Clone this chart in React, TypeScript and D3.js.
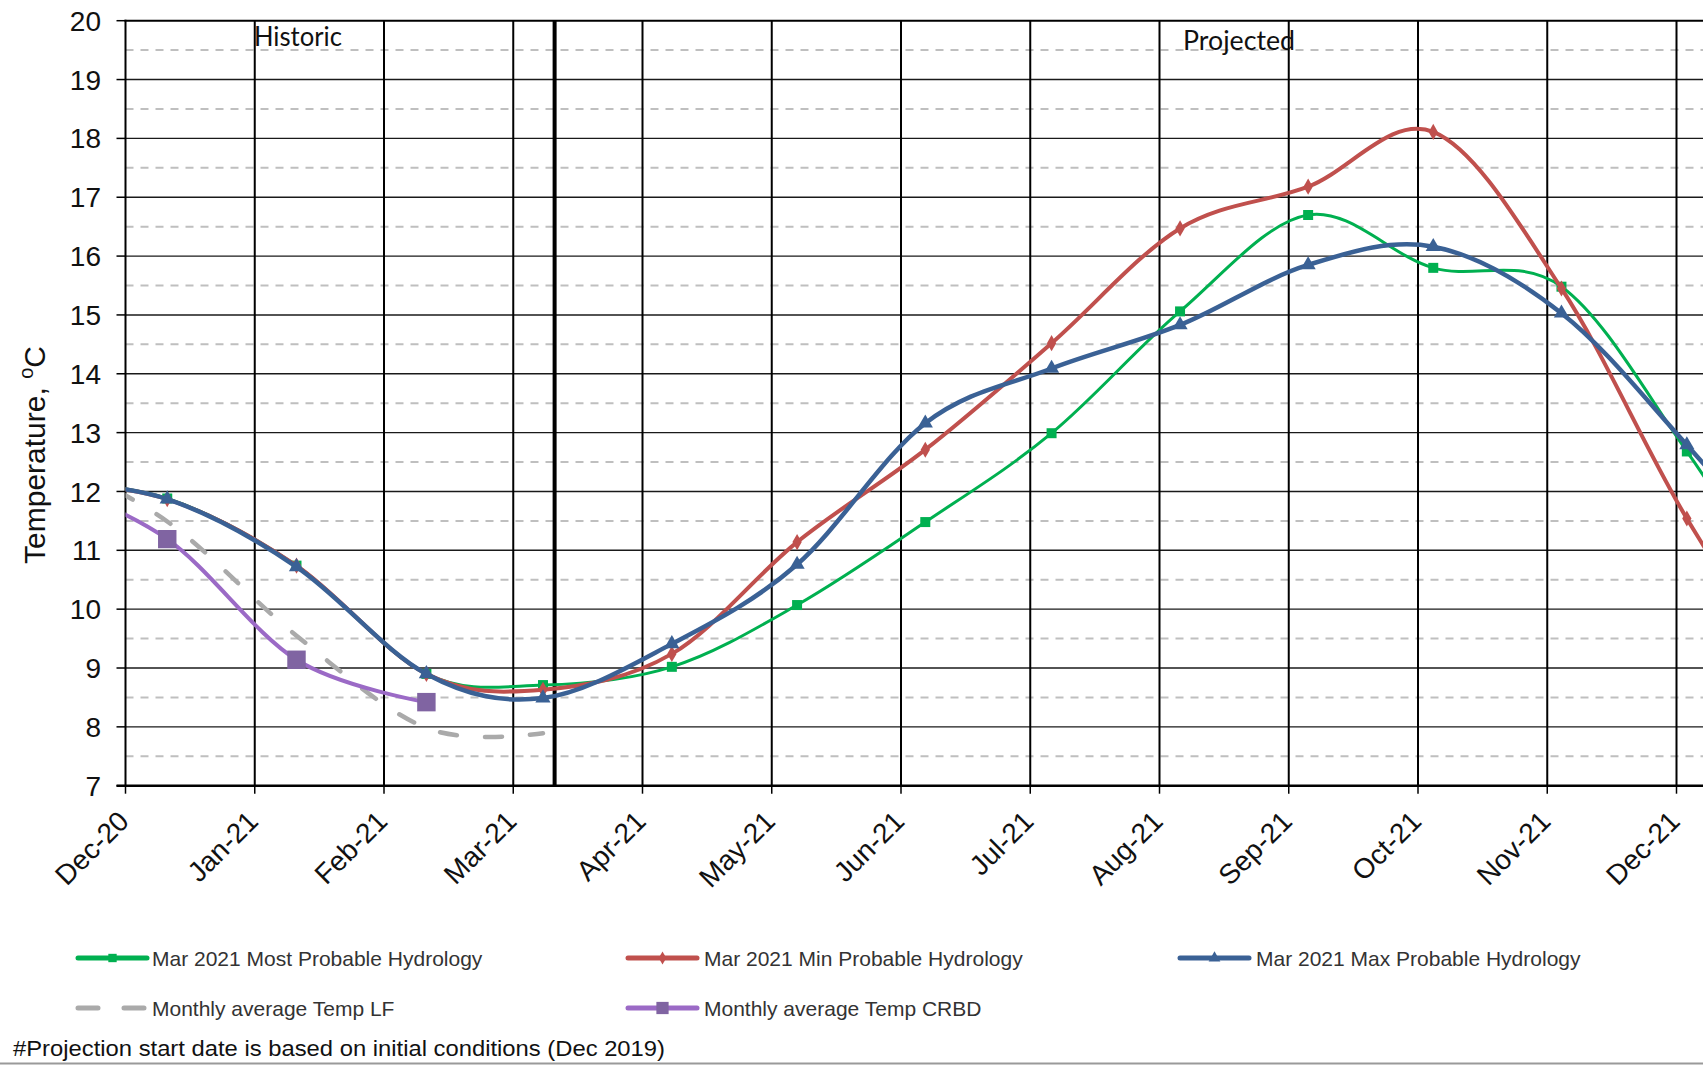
import React from "react";
import * as d3 from "d3";

// ---------- data ----------
const monthLabels = ["Dec-20", "Jan-21", "Feb-21", "Mar-21", "Apr-21", "May-21", "Jun-21", "Jul-21", "Aug-21", "Sep-21", "Oct-21", "Nov-21", "Dec-21"];
const yTickValues = [7, 8, 9, 10, 11, 12, 13, 14, 15, 16, 17, 18, 19, 20];
const yHalfValues = [7.5, 8.5, 9.5, 10.5, 11.5, 12.5, 13.5, 14.5, 15.5, 16.5, 17.5, 18.5, 19.5];

// x positions in months after Dec-20 (first and last points lie outside the visible window)
const projMonths = [-0.68, 0.323, 1.323, 2.328, 3.23, 4.227, 5.196, 6.188, 7.165, 8.159, 9.15, 10.118, 11.11, 12.08, 13.08];
const mostProbable = [12.2, 11.88, 10.74, 8.9, 8.71, 9.02, 10.07, 11.48, 12.99, 15.06, 16.7, 15.8, 15.48, 12.68, 9.3];
const minProbable = [12.2, 11.87, 10.74, 8.9, 8.63, 9.24, 11.14, 12.71, 14.52, 16.47, 17.18, 18.11, 15.45, 11.54, 8.2];
const maxProbable = [12.2, 11.87, 10.72, 8.9, 8.49, 9.41, 10.76, 13.16, 14.09, 14.83, 15.85, 16.16, 15.03, 12.79, 10.24];

const lfMonths = [-0.68, 0.323, 1.323, 2.328, 3.23];
const tempLF = [12.7, 11.49, 9.55, 7.98, 7.89];
const crbdMonths = [-0.68, 0.323, 1.323, 2.328];
const tempCRBD = [12.25, 11.19, 9.14, 8.42];

const projectionStart = 3.32;

const FONT = "'Liberation Sans', Arial, sans-serif";

const W = 1703;
const H = 1065;
const left = 125.5;
const top = 20.7;
const bottom = 785.7;
const monthW = 129.25;

const x = d3.scaleLinear().domain([0, 12]).range([left, left + 12 * monthW]);
const y = d3.scaleLinear().domain([7, 20]).range([bottom, top]);

const line = d3
  .line<[number, number]>()
  .x((d) => x(d[0]))
  .y((d) => y(d[1]))
  .curve(d3.curveCardinal.tension(0));

type Series = {
  name: string;
  months: number[];
  values: number[];
  color: string;
  markerColor: string;
  width: number;
  dash?: string;
  legendDash?: string;
  symbol?: d3.SymbolType;
  size: number;
  legendSize: number;
};

const series: Series[] = [
  { name: "Mar 2021 Most Probable Hydrology", months: projMonths, values: mostProbable, color: "#00b050", markerColor: "#00b050", width: 3, symbol: d3.symbolSquare, size: 100, legendSize: 70 },
  { name: "Mar 2021 Min Probable Hydrology", months: projMonths, values: minProbable, color: "#c0504d", markerColor: "#c0504d", width: 4, symbol: d3.symbolDiamond, size: 75, legendSize: 50 },
  { name: "Mar 2021 Max Probable Hydrology", months: projMonths, values: maxProbable, color: "#3a6195", markerColor: "#3a6195", width: 4.5, symbol: d3.symbolTriangle, size: 100, legendSize: 60 },
  { name: "Monthly average Temp LF", months: lfMonths, values: tempLF, color: "#aaaaaa", markerColor: "#aaaaaa", width: 4.5, dash: "17 28", legendDash: "20 26", size: 0, legendSize: 0 },
  { name: "Monthly average Temp CRBD", months: crbdMonths, values: tempCRBD, color: "#9b6ac6", markerColor: "#8064a2", width: 4, symbol: d3.symbolSquare, size: 340, legendSize: 150 },
];

const legendPos = [
  { lx: 78, tx: 152, y: 958 },
  { lx: 628, tx: 704, y: 958 },
  { lx: 1180, tx: 1256, y: 958 },
  { lx: 78, tx: 152, y: 1008 },
  { lx: 628, tx: 704, y: 1008 },
];

export default function App() {
  const months = d3.range(0, 13);
  return (
    <svg width={W} height={H} style={{ position: "absolute", left: 0, top: 0, background: "#fff" }} fontFamily={FONT}>
      <defs>
        <clipPath id="plotClip">
          <rect x={left} y={top} width={W - left} height={bottom - top} />
        </clipPath>
      </defs>
      <rect x={0} y={0} width={W} height={H} fill="#fff" />

      {/* dashed half-degree gridlines */}
      {yHalfValues.map((v) => (
        <line key={"h" + v} x1={left} x2={W} y1={y(v)} y2={y(v)} stroke="#bfbfbf" strokeWidth={2} strokeDasharray="8 7" />
      ))}
      {/* solid integer gridlines */}
      {yTickValues.filter((v) => v > 7 && v < 20).map((v) => (
        <line key={"g" + v} x1={left} x2={W} y1={y(v)} y2={y(v)} stroke="#1a1a1a" strokeWidth={1.4} />
      ))}
      {/* vertical month gridlines */}
      {months.filter((m) => m > 0).map((m) => (
        <line key={"v" + m} x1={x(m)} x2={x(m)} y1={top} y2={bottom} stroke="#000" strokeWidth={2} />
      ))}
      {/* top border */}
      <line x1={left - 1} x2={W} y1={top} y2={top} stroke="#000" strokeWidth={2} />
      {/* projection start */}
      <line x1={x(projectionStart)} x2={x(projectionStart)} y1={top} y2={bottom} stroke="#000" strokeWidth={4} />

      {/* y axis */}
      <line x1={left} x2={left} y1={top - 1} y2={bottom + 1} stroke="#000" strokeWidth={2} />
      {yTickValues.map((v) => (
        <g key={"yt" + v}>
          <line x1={left - 9} x2={left} y1={y(v)} y2={y(v)} stroke="#000" strokeWidth={1.5} />
          <text x={101} y={y(v)} dy="0.36em" textAnchor="end" fontSize={28} fill="#111">
            {v}
          </text>
        </g>
      ))}
      {/* x axis */}
      <line x1={left - 9} x2={W} y1={bottom} y2={bottom} stroke="#000" strokeWidth={2.5} />
      {months.map((m) => (
        <g key={"xt" + m}>
          <line x1={x(m)} x2={x(m)} y1={bottom} y2={bottom + 8} stroke="#000" strokeWidth={1.5} />
          <text
            transform={`translate(${x(m) + 5},${823}) rotate(-45)`}
            textAnchor="end"
            fontSize={28}
            fill="#111"
          >
            {monthLabels[m]}
          </text>
        </g>
      ))}

      {/* axis title */}
      <text transform={`translate(45,455) rotate(-90)`} textAnchor="middle" fontSize={30} fill="#111">
        Temperature,{" "}
        <tspan fontSize={20} dy={-12}>o</tspan>
        <tspan dy={12}>C</tspan>
      </text>

      {/* annotations */}
      <text x={254} y={46} fontFamily="Lato, 'Open Sans', sans-serif" fontSize={26} fill="#111" textLength={88} lengthAdjust="spacingAndGlyphs">
        Historic
      </text>
      <text x={1183} y={50} fontFamily="Lato, 'Open Sans', sans-serif" fontSize={26} fill="#111" textLength={112} lengthAdjust="spacingAndGlyphs">
        Projected
      </text>

      {/* series */}
      <g clipPath="url(#plotClip)">
        {series.map((s) => {
          const pts: [number, number][] = s.months.map((m, i) => [m, s.values[i]]);
          return (
            <g key={s.name}>
              <path
                d={line(pts) || ""}
                fill="none"
                stroke={s.color}
                strokeWidth={s.width}
                strokeDasharray={s.dash}
                strokeLinecap={s.dash ? "round" : "butt"}
                strokeLinejoin="round"
              />
              {s.symbol &&
                pts
                  .filter((p) => p[0] >= 0 && p[0] <= 12.5)
                  .map((p, i) => (
                    <path
                      key={i}
                      d={d3.symbol().type(s.symbol!).size(s.size)() || ""}
                      transform={`translate(${x(p[0])},${y(p[1])})`}
                      fill={s.markerColor}
                    />
                  ))}
            </g>
          );
        })}
      </g>

      {/* legend */}
      {series.map((s, i) => {
        const p = legendPos[i];
        return (
          <g key={"lg" + i}>
            <line
              x1={p.lx}
              x2={p.lx + 69}
              y1={p.y}
              y2={p.y}
              stroke={s.color}
              strokeWidth={5}
              strokeDasharray={s.legendDash}
              strokeLinecap="round"
            />
            {s.symbol && (
              <path d={d3.symbol().type(s.symbol).size(s.legendSize)() || ""} transform={`translate(${p.lx + 34.5},${p.y})`} fill={s.markerColor} />
            )}
            <text x={p.tx} y={p.y + 7.5} fontSize={21} fill="#333">
              {s.name}
            </text>
          </g>
        );
      })}

      {/* footnote */}
      <text x={13} y={1056} fontSize={22} fill="#111" textLength={652} lengthAdjust="spacingAndGlyphs">
        #Projection start date is based on initial  conditions (Dec 2019)
      </text>
      <line x1={0} x2={W} y1={1063.5} y2={1063.5} stroke="#9a9a9a" strokeWidth={2} />
    </svg>
  );
}
